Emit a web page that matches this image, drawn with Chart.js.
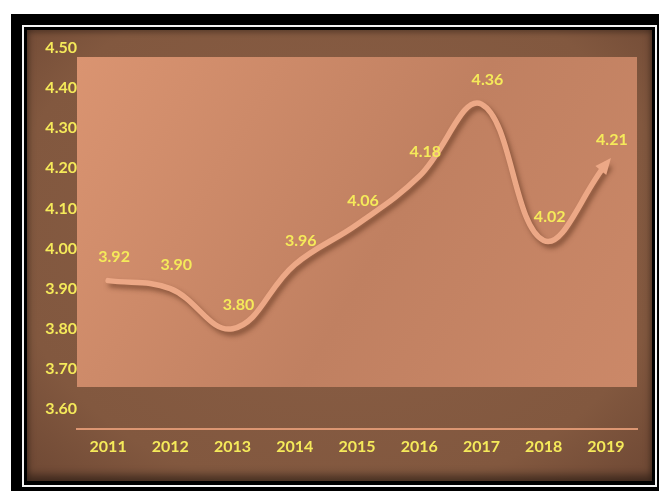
<!DOCTYPE html>
<html>
<head>
<meta charset="utf-8">
<script src="https://cdn.jsdelivr.net/npm/chart.js@4"></script>
<style>
  body { margin: 0; background: #fff; }
  #outer { position: absolute; left: 11px; top: 14px; width: 648px; height: 477px; background: #000; }
  #rule { position: absolute; left: 22px; top: 25px; width: 631px; height: 458px; border: 2px solid #f4f4f4; background: #000; }
  #panel { position: absolute; left: 27px; top: 30px; width: 625px; height: 451px;
           background: radial-gradient(ellipse at 50% 45%, #8a5e45 0%, #82583f 75%, #6e4834 100%);
           box-shadow: inset 0 -6px 8px rgba(0,0,0,0.45), inset 0 3px 5px rgba(0,0,0,0.25); }
  canvas { position: absolute; left: 0; top: 0; }
</style>
</head>
<body>
<div id="outer"></div>
<div id="rule"></div>
<div id="panel"><canvas id="chart" width="625" height="451"></canvas></div>
<script>
const years = ['2011', '2012', '2013', '2014', '2015', '2016', '2017', '2018', '2019'];
const values = [3.92, 3.90, 3.80, 3.96, 4.06, 4.18, 4.36, 4.02, 4.21];
const yTicks = [3.6, 3.7, 3.8, 3.9, 4.0, 4.1, 4.2, 4.3, 4.4, 4.5];

const yellow = '#f5ea5a';
const lineColor = '#eca886';

// lighter inner plot rectangle
const plotBox = {
  id: 'plotBox',
  beforeDraw(chart) {
    const { ctx, chartArea: a } = chart;
    const top = a.top + 9, bottom = a.bottom - 42;
    const g = ctx.createLinearGradient(a.left, top, a.right, bottom);
    g.addColorStop(0, '#da9471');
    g.addColorStop(0.55, '#c08061');
    g.addColorStop(1, '#cb8868');
    ctx.save();
    ctx.fillStyle = g;
    ctx.fillRect(a.left, top, a.right - a.left, bottom - top);
    ctx.restore();
  }
};

// shadow under the line
const lineShadow = {
  id: 'lineShadow',
  beforeDatasetDraw(chart) {
    const ctx = chart.ctx;
    ctx.save();
    ctx.shadowColor = 'rgba(80,40,20,0.55)';
    ctx.shadowBlur = 5;
    ctx.shadowOffsetX = 3;
    ctx.shadowOffsetY = 4;
  },
  afterDatasetDraw(chart) {
    chart.ctx.restore();
  }
};

// arrow head + value labels
const decor = {
  id: 'decor',
  afterDatasetsDraw(chart) {
    const ctx = chart.ctx;
    const pts = chart.getDatasetMeta(0).data;
    const last = pts[pts.length - 1];
    const ang = Math.atan2(last.y - last.cp1y, last.x - last.cp1x);
    ctx.save();
    ctx.translate(last.x, last.y);
    ctx.rotate(ang);
    ctx.fillStyle = lineColor;
    ctx.beginPath();
    ctx.moveTo(8, 0);
    ctx.lineTo(-8, -7);
    ctx.lineTo(-8, 7);
    ctx.closePath();
    ctx.fill();
    ctx.restore();

    ctx.save();
    ctx.font = 'bold 16px Lato';
    ctx.fillStyle = yellow;
    ctx.textAlign = 'center';
    ctx.textBaseline = 'middle';
    pts.forEach((p, i) => {
      ctx.fillText(values[i].toFixed(2), p.x + 6, p.y - 24);
    });
    ctx.restore();
  }
};

new Chart(document.getElementById('chart'), {
  type: 'line',
  data: {
    labels: years,
    datasets: [{
      data: values,
      borderColor: lineColor,
      borderWidth: 5.5,
      borderCapStyle: 'round',
      tension: 0.4,
      pointRadius: 0,
      fill: false
    }]
  },
  options: {
    responsive: false,
    animation: false,
    layout: { padding: { top: 18, right: 15, left: 0, bottom: 0 } },
    plugins: { legend: { display: false }, tooltip: { enabled: false } },
    scales: {
      x: {
        offset: true,
        grid: { display: false, drawTicks: false },
        border: { display: true, color: '#dc9672', width: 2 },
        ticks: { color: yellow, font: { family: 'Lato', size: 16, weight: 'bold' }, padding: 8 },
        afterFit(s) { s.height = 52; }
      },
      y: {
        min: 3.55,
        max: 4.5,
        grid: { display: false, drawTicks: false },
        border: { display: false },
        afterBuildTicks(s) { s.ticks = yTicks.map(v => ({ value: v })); },
        ticks: {
          color: yellow,
          font: { family: 'Lato', size: 16, weight: 'bold' },
          padding: 0,
          callback: v => v.toFixed(2)
        },
        afterFit(s) { s.width = 50; }
      }
    }
  },
  plugins: [plotBox, lineShadow, decor]
});
</script>
</body>
</html>
